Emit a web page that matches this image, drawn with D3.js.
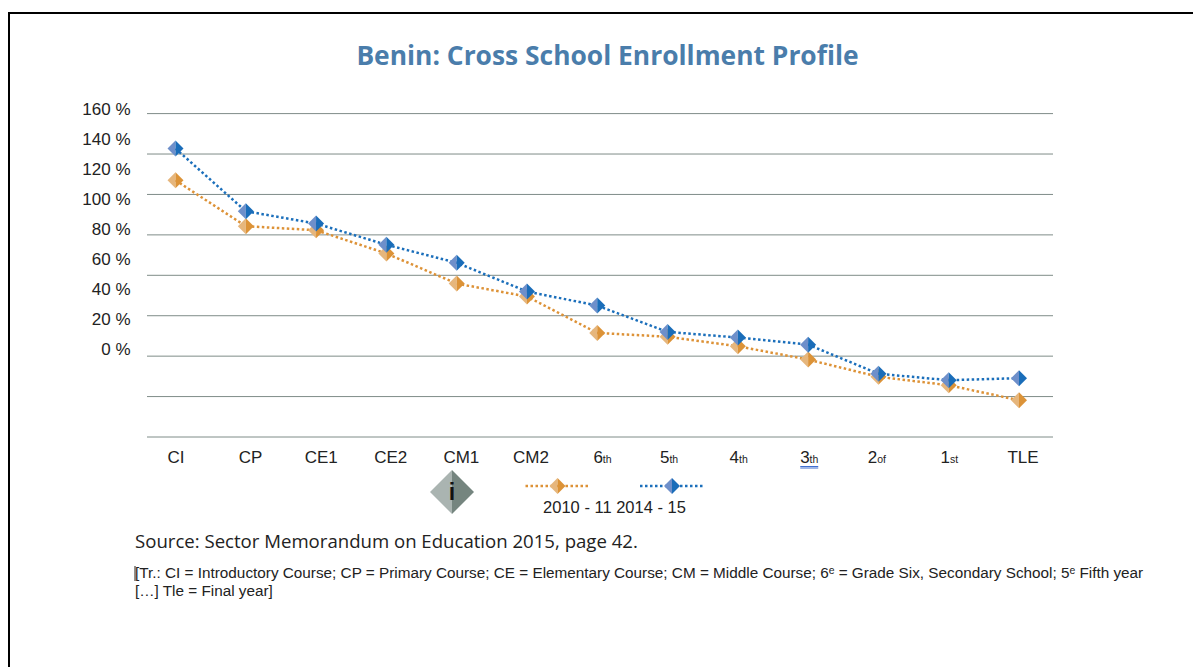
<!DOCTYPE html>
<html>
<head>
<meta charset="utf-8">
<script src="https://cdnjs.cloudflare.com/ajax/libs/d3/7.8.5/d3.min.js"></script>
<style>
  html,body{margin:0;padding:0;background:#fff;overflow:hidden}
  text{font-family:"Liberation Sans",Arial,sans-serif;fill:#222}
</style>
</head>
<body>
<svg id="chart" width="1193" height="667"></svg>
<script>
var categories=["CI","CP","CE1","CE2","CM1","CM2","6","5","4","3","2","1","TLE"];
var suffixes=["","","","","","","th","th","th","th","of","st",""];
var seriesNames=["2010 - 11","2014 - 15"];
var values2010=[127,104.3,102.3,90.8,75.9,69.5,51.5,49.6,44.9,38.3,29.8,25.6,18.2];
var values2014=[142.7,111.7,105.6,95.1,86.2,72,65,52,49.2,45.7,31.3,28.1,29.1];
var yTicks=[0,20,40,60,80,100,120,140,160];

// the x labels sit a few px off the points in the original
var labelNudge=[0,4,4,3,3,2,3,-1,-2,-2,-5,-3,0];

var colors=[
  {line:"#dd9237",left:"#e6b67c",right:"#dc9338"},
  {line:"#1b6fbb",left:"#6e8fca",right:"#1a6db9"}
];

var svg=d3.select("#chart");

// page frame
svg.append("path")
  .attr("d","M9,667V13H1193")
  .attr("fill","none")
  .attr("stroke","#000")
  .attr("stroke-width",2);

svg.append("text")
  .attr("x",607.5).attr("y",64.5)
  .attr("text-anchor","middle")
  .style("font-family","'Open Sans',sans-serif")
  .style("font-weight","700")
  .style("font-size","26.4px")
  .style("fill","#4a7dab")
  .text("Benin: Cross School Enrollment Profile");

var x=d3.scalePoint().domain(categories).range([175.5,1019]);
var y=d3.scaleLinear().domain([0,160]).range([437,113.6]);

// gridlines follow the value scale, the labels are squeezed into their own band
var yLabel=d3.scalePoint().domain(yTicks).range([354.5,114.5]);
var xLabel=d3.scalePoint().domain(categories).range([176,1023]);

var grid=svg.append("g")
  .attr("transform","translate(147,0)")
  .call(d3.axisLeft(y).offset(0).tickValues(yTicks).tickSize(-906).tickFormat(""));
grid.select(".domain").remove();
grid.selectAll("line").attr("stroke","#7f8c88").attr("stroke-width",1);

svg.append("g").selectAll("text")
  .data(yTicks)
  .enter()
  .append("text")
    .attr("x",130.5)
    .attr("y",function(d){return yLabel(d);})
    .attr("text-anchor","end")
    .style("font-size","17px")
    .text(function(d){return d+" %";});

var xText=svg.append("g").selectAll("text")
  .data(categories)
  .enter()
  .append("text")
    .attr("x",function(d,i){return xLabel(d)+labelNudge[i];})
    .attr("y",463)
    .attr("text-anchor","middle")
    .style("font-size","17px")
    .text(function(d){return d;});
xText.append("tspan")
  .style("font-size","10.5px")
  .text(function(d,i){return suffixes[i];});

// the "3th" spell-check underline
var u=xLabel("3")+labelNudge[9];
[466.5,468].forEach(function(yy){
  svg.append("line")
    .attr("x1",u-9).attr("x2",u+9)
    .attr("y1",yy).attr("y2",yy)
    .attr("stroke","#3f6fd0").attr("stroke-width",1);
});

var line=d3.line()
  .x(function(d,i){return x(categories[i]);})
  .y(function(d){return y(d);});

function diamond(g,cx,cy,r,left,right){
  g.append("path")
    .attr("d","M"+cx+","+(cy-r)+"L"+(cx-r)+","+cy+"L"+cx+","+(cy+r)+"Z")
    .attr("fill",left);
  g.append("path")
    .attr("d","M"+cx+","+(cy-r)+"L"+(cx+r)+","+cy+"L"+cx+","+(cy+r)+"Z")
    .attr("fill",right);
}

[values2010,values2014].forEach(function(vals,s){
  var c=colors[s];
  svg.append("path")
    .attr("d",line(vals))
    .attr("fill","none")
    .attr("stroke",c.line)
    .attr("stroke-width",2.5)
    .attr("stroke-dasharray","2.5 2.5");
  var g=svg.append("g");
  vals.forEach(function(v,i){
    diamond(g,x(categories[i]),y(v),8,c.left,c.right);
  });
});

// legend
var legendX=d3.scalePoint().domain(seriesNames).range([557.5,672]);
seriesNames.forEach(function(name,s){
  var c=colors[s],cx=legendX(name);
  svg.append("line")
    .attr("x1",cx-32).attr("x2",cx+32)
    .attr("y1",486).attr("y2",486)
    .attr("stroke",c.line)
    .attr("stroke-width",2.5)
    .attr("stroke-dasharray","2.5 2.5");
  diamond(svg.append("g"),cx,486,8,c.left,c.right);
});
svg.append("text")
  .attr("x",614.5).attr("y",513)
  .attr("text-anchor","middle")
  .style("font-size","16.5px")
  .text(seriesNames.join(" "));

// info badge
diamond(svg.append("g"),452,492,22,"#aab4b1","#75857f");
svg.append("text")
  .attr("x",452).attr("y",500)
  .attr("text-anchor","middle")
  .style("font-weight","700")
  .style("font-size","23px")
  .style("fill","#111")
  .text("i");

svg.append("text")
  .attr("x",135).attr("y",547.5)
  .style("font-family","'Open Sans',sans-serif")
  .style("font-size","18.6px")
  .text("Source: Sector Memorandum on Education 2015, page 42.");

// text caret left in the screenshot
svg.append("line")
  .attr("x1",135).attr("x2",135)
  .attr("y1",566).attr("y2",581)
  .attr("stroke","#222").attr("stroke-width",1);

var note=svg.append("text")
  .style("font-size","15.3px");
note.append("tspan").attr("x",135).attr("y",578)
  .text("[Tr.: CI = Introductory Course; CP = Primary Course; CE = Elementary Course; CM = Middle Course; 6\u1d49 = Grade Six, Secondary School; 5\u1d49 Fifth year");
note.append("tspan").attr("x",135).attr("y",596)
  .text("[\u2026] Tle = Final year]");
</script>
</body>
</html>
